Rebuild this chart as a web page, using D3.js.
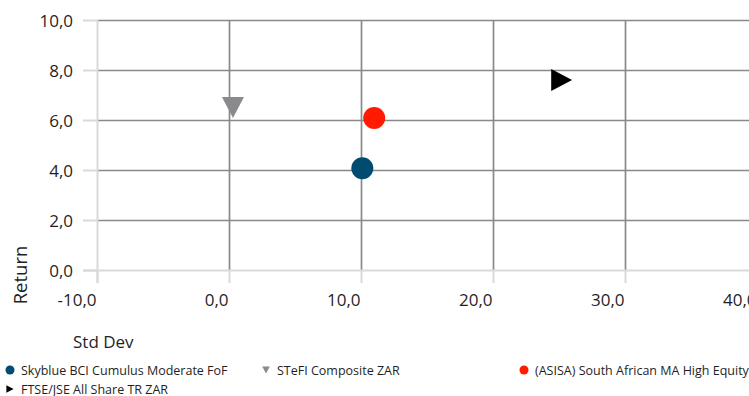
<!DOCTYPE html>
<html>
<head>
<meta charset="utf-8">
<script src="https://cdn.jsdelivr.net/npm/d3@7"></script>
<style>
  html, body { margin: 0; padding: 0; background: #fff; }
  svg { display: block; font-family: "Open Sans", sans-serif; }
</style>
</head>
<body>
<svg id="chart" width="749" height="396"></svg>
<script>
// Risk / return data
const seriesNames = [
  "Skyblue BCI Cumulus Moderate FoF",
  "STeFI Composite ZAR",
  "(ASISA) South African MA High Equity",
  "FTSE/JSE All Share TR ZAR"
];
const stdDev = [10.1, 0.3, 11.0, 25.2];
const returns = [4.07, 6.5, 6.08, 7.6];
const xTicks = [-10, 0, 10, 20, 30, 40];
const yTicks = [0, 2, 4, 6, 8, 10];

// Marker appearance per series
const markerShape = ["circle", "triangleDown", "circle", "triangleRight"];
const markerColor = ["#004b6f", "#8a8a8c", "#ff1a00", "#000000"];

const fmt = d3.formatLocale({ decimal: ",", thousands: ".", grouping: [3], currency: ["", ""], minus: "-" }).format(".1f");

const svg = d3.select("#chart");
const x = d3.scaleLinear().domain([-10, 40]).range([97, 757]);
const y = d3.scaleLinear().domain([0, 10]).range([270, 20]);

const gridColor = "#898989";
const axisColor = "#d9d9d9";
const textColor = "#1f1f1f";

// Vertical gridlines
svg.append("g")
  .attr("transform", `translate(0,${y(0)})`)
  .call(d3.axisBottom(x).tickValues(xTicks.filter(d => d !== -10)).tickSize(-(y(0) - y(10))).tickFormat(""))
  .call(g => g.select(".domain").remove())
  .call(g => g.selectAll("line").attr("stroke", gridColor).attr("stroke-width", 1.7));

// Horizontal gridlines
svg.append("g")
  .attr("transform", `translate(${x(-10)},0)`)
  .call(d3.axisLeft(y).tickValues(yTicks.filter(d => d !== 0)).tickSize(-(760 - x(-10))).tickFormat(""))
  .call(g => g.select(".domain").remove())
  .call(g => g.selectAll("line").attr("stroke", gridColor).attr("stroke-width", 1.7));

// X axis
svg.append("g")
  .attr("transform", `translate(0,${y(0)})`)
  .call(d3.axisBottom(x).tickValues(xTicks).tickSize(13).tickSizeOuter(0).tickFormat(fmt))
  .call(g => g.select(".domain").attr("stroke", axisColor).attr("stroke-width", 2).attr("d", `M${x(-10) - 14},0.5H760`))
  .call(g => g.selectAll("line").attr("stroke", axisColor).attr("stroke-width", 2))
  .call(g => g.selectAll("text")
    .attr("fill", textColor).attr("font-size", 17).attr("font-family", "Open Sans")
    .attr("text-anchor", "end").attr("x", -1).attr("y", 24).attr("dy", "0.71em"));

// Y axis
svg.append("g")
  .attr("transform", `translate(${x(-10)},0)`)
  .call(d3.axisLeft(y).tickValues(yTicks).tickSize(14).tickSizeOuter(0).tickFormat(fmt))
  .call(g => g.select(".domain").attr("stroke", axisColor).attr("stroke-width", 2).attr("d", `M0.5,${y(10)}V${y(0) + 13}`))
  .call(g => g.selectAll("line").attr("stroke", axisColor).attr("stroke-width", 2))
  .call(g => g.selectAll("text")
    .attr("fill", textColor).attr("font-size", 17).attr("font-family", "Open Sans")
    .attr("x", -24).attr("dy", "0.36em"));

// Axis titles
svg.append("text")
  .attr("transform", "translate(27,275) rotate(-90)")
  .attr("text-anchor", "middle")
  .attr("font-size", 18.5).attr("fill", textColor)
  .text("Return");

svg.append("text")
  .attr("x", 73).attr("y", 348)
  .attr("font-size", 17).attr("fill", textColor)
  .text("Std Dev");

// Marker shapes, centred on the data point
function markerPath(shape, s) {
  if (shape === "triangleDown") return `M${-s},${-s * 0.95}L${s},${-s * 0.95}L0,${s * 0.95}Z`;
  if (shape === "triangleRight") return `M${-s * 0.95},${-s}L${s * 0.95},0L${-s * 0.95},${s}Z`;
  return d3.path().toString();
}

const idx = d3.range(seriesNames.length);

// Plot points
const pts = svg.append("g");
idx.forEach(i => {
  if (markerShape[i] === "circle") {
    pts.append("circle")
      .attr("cx", x(stdDev[i])).attr("cy", y(returns[i])).attr("r", 11)
      .attr("fill", markerColor[i]);
  } else {
    pts.append("path")
      .attr("transform", `translate(${x(stdDev[i])},${y(returns[i])})`)
      .attr("d", markerPath(markerShape[i], 11))
      .attr("fill", markerColor[i]);
  }
});

// Legend
const legendPos = [[10, 370], [266, 370], [524, 370], [10, 389]];
const legend = svg.append("g").attr("font-size", 12.5).attr("fill", textColor);
idx.forEach(i => {
  const [lx, ly] = legendPos[i];
  if (markerShape[i] === "circle") {
    legend.append("circle").attr("cx", lx).attr("cy", ly).attr("r", 4.5).attr("fill", markerColor[i]);
  } else {
    legend.append("path")
      .attr("transform", `translate(${lx},${ly})`)
      .attr("d", markerPath(markerShape[i], 3.8))
      .attr("fill", markerColor[i]);
  }
  legend.append("text")
    .attr("x", lx + 11).attr("y", ly).attr("dy", "0.36em")
    .text(seriesNames[i]);
});
</script>
</body>
</html>
